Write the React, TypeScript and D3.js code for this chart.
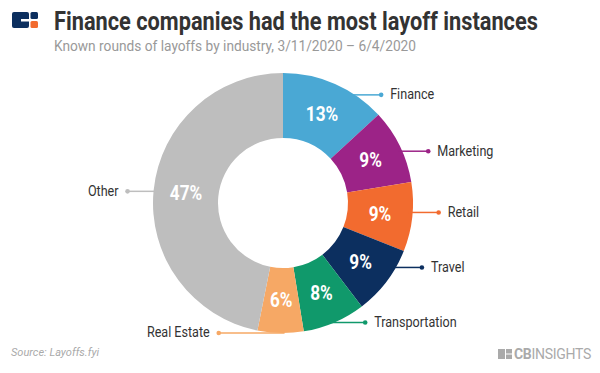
import * as React from "react";
import * as d3 from "d3";

const industries = ["Finance", "Marketing", "Retail", "Travel", "Transportation", "Real Estate", "Other"];
const shares = [13.1, 9.3, 8.6, 8.6, 7.8, 5.7, 46.8];
const colors = ["#4aa8d4", "#9c2387", "#f26b2f", "#0c2f5f", "#10996b", "#f6a865", "#bebebe"];

const title = "Finance companies had the most layoff instances";
const subtitle = "Known rounds of layoffs by industry, 3/11/2020 \u2013 6/4/2020";
const source = "Source: Layoffs.fyi";

const W = 600;
const H = 373;
const cx = 283;
const cy = 203;
const outerR = 130;
const innerR = 65;

interface Slice {
    name: string;
    value: number;
    color: string;
}

// text squeezed horizontally to a given width (the original uses a condensed face)
function FitText(props: { x: number, y: number, width: number, size: number, weight?: string, fill: string, children: string }) {
    const ref = React.useRef<SVGTextElement>(null);
    const [sx, setSx] = React.useState(0.87);
    React.useLayoutEffect(() => {
        if (!ref.current) return;
        const natural = ref.current.getComputedTextLength();
        if (natural > 0) setSx(props.width / natural);
    }, [props.width, props.children]);
    return <text ref={ref} transform={`translate(${props.x},${props.y}) scale(${sx},1)`} fontSize={props.size}
        fontWeight={props.weight} fill={props.fill}>{props.children}</text>;
}

export default function App() {
    const data: Slice[] = industries.map((name, i) => ({ name, value: shares[i], color: colors[i] }));

    const pie = d3.pie<Slice>().value(d => d.value).sort(null);
    const arcs = pie(data);

    const arc = d3.arc<d3.PieArcDatum<Slice>>().innerRadius(innerR).outerRadius(outerR);

    // label heights: upper half a bit tighter than lower half, then push apart on each side
    const labels = arcs.map(a => {
        const mid = (a.startAngle + a.endAngle) / 2;
        const c = Math.cos(mid);
        const r = c < 0 ? 130 : 118;
        return { a, right: mid < Math.PI, y: -c * r };
    });
    const minGap = 55;
    [true, false].forEach(side => {
        const group = labels.filter(l => l.right === side).sort((p, q) => q.y - p.y);
        for (let i = 1; i < group.length; i++) {
            if (group[i - 1].y - group[i].y < minGap) group[i].y = group[i - 1].y - minGap;
        }
    });

    const font = "Roboto, 'Noto Sans', sans-serif";
    const dotR = 145;

    return <svg width={W} height={H} style={{ position: "absolute", left: 0, top: 0, background: "#fff" }} fontFamily={font}>
        {/* logo */}
        <g>
            <rect x={12} y={12} width={17} height={16} rx={2} fill="#0c2f5f"></rect>
            <rect x={21} y={19} width={9} height={2.5} fill="#fff"></rect>
            <rect x={30.5} y={12} width={7.5} height={7} rx={1.5} fill="#0c2f5f"></rect>
            <rect x={30.5} y={21} width={7.5} height={7} rx={1.5} fill="#f26b2f"></rect>
        </g>

        <FitText x={54} y={30} width={484} size={25} weight="bold" fill="#333">{title}</FitText>
        <FitText x={54} y={51} width={362} size={15} fill="#999">{subtitle}</FitText>

        <g transform={`translate(${cx},${cy})`}>
            {arcs.map((a, i) => <path key={i} d={arc(a) || ""} fill={a.data.color}></path>)}

            {arcs.map((a, i) => {
                const [px, py] = arc.centroid(a);
                return <text key={i} transform={`translate(${px},${py + 7}) scale(0.86,1)`} textAnchor="middle"
                    fontSize={20} fontWeight="bold" fill="#fff">{Math.round(a.data.value)}%</text>;
            })}

            {labels.map((l, i) => {
                const ly = l.y;
                const edge = Math.sqrt(Math.max(0, outerR * outerR - ly * ly));
                const ring = Math.sqrt(Math.max(0, dotR * dotR - ly * ly));
                const sign = l.right ? 1 : -1;
                const x0 = sign * (edge - 4);
                const x1 = sign * Math.max(edge + 26, ring);
                return <g key={i}>
                    <line x1={x0} y1={ly} x2={x1} y2={ly} stroke={l.a.data.color} strokeWidth={1.5}></line>
                    <circle cx={x1} cy={ly} r={2.3} fill={l.a.data.color}></circle>
                    <text transform={`translate(${x1 + sign * 9},${ly + 4.5}) scale(0.9,1)`} textAnchor={l.right ? "start" : "end"}
                        fontSize={14} fill="#333">{l.a.data.name}</text>
                </g>;
            })}
        </g>

        <text x={11} y={356} fontSize={11} fontStyle="italic" fill="#aaa">{source}</text>

        <g fill="#aaa">
            <rect x={498} y={349} width={7} height={10}></rect>
            <rect x={506} y={349} width={6} height={4.5}></rect>
            <rect x={506} y={354.5} width={6} height={4.5}></rect>
            <text x={514} y={359} fontSize={14} letterSpacing={-0.3}>
                <tspan fontWeight="bold">CB</tspan><tspan>INSIGHTS</tspan>
            </text>
        </g>
    </svg>;
}
